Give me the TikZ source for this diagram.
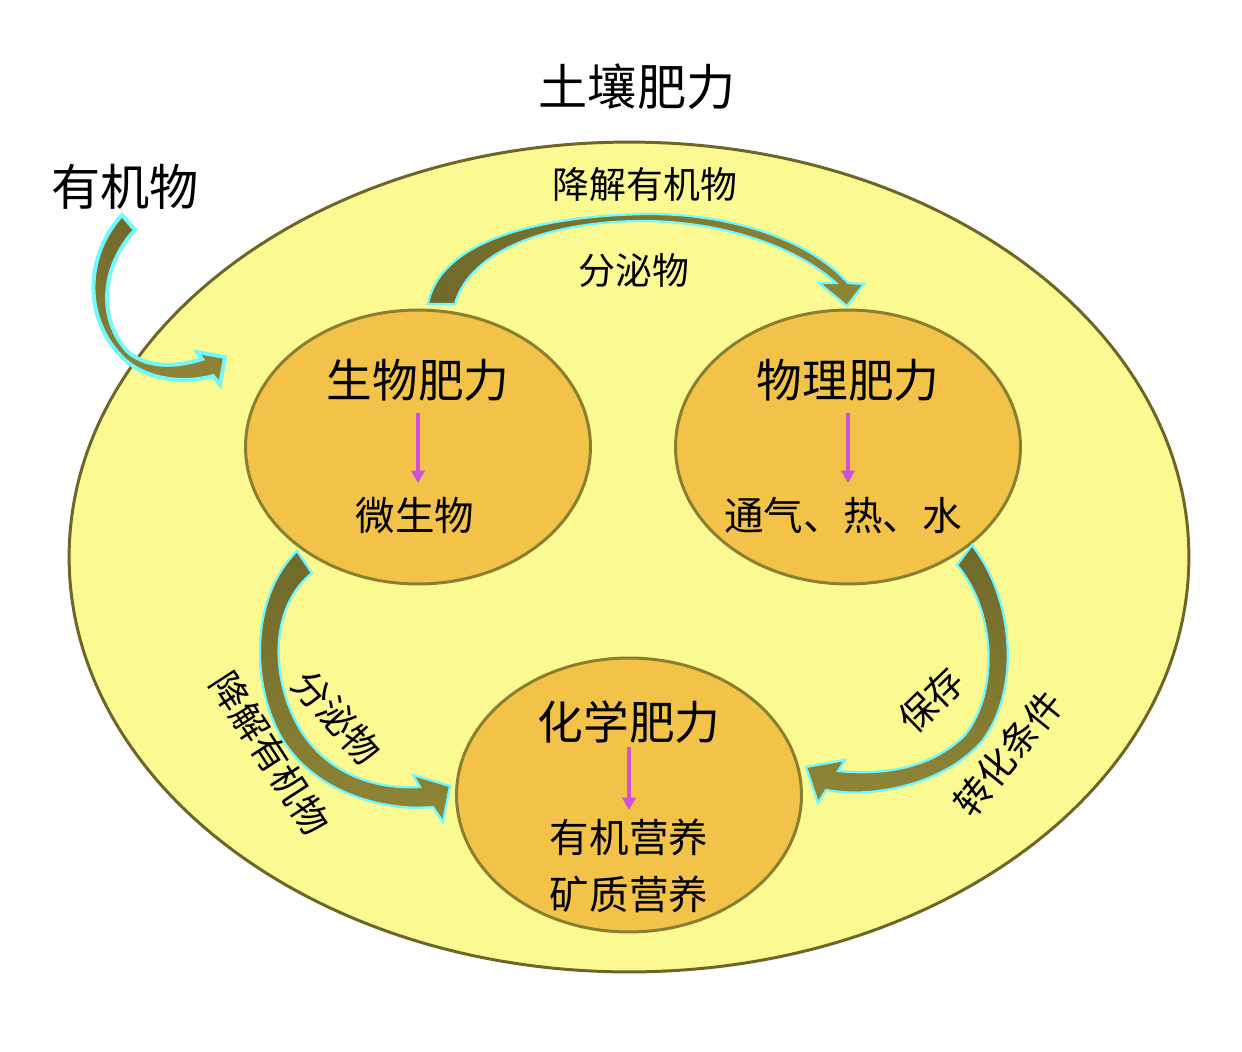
\documentclass[tikz,border=0pt]{standalone}
\usepackage{fontspec}
\setmainfont{Noto Sans CJK SC}
\usetikzlibrary{shapes.geometric,arrows.meta}
\definecolor{bigfill}{HTML}{FBFA92}
\definecolor{bigline}{HTML}{6D6628}
\definecolor{innfill}{HTML}{F3C248}
\definecolor{innline}{HTML}{8A7F30}
\definecolor{arrdark}{HTML}{6F692B}
\definecolor{arrlight}{HTML}{8E8536}
\definecolor{glow}{HTML}{70F8FC}
\definecolor{mag}{HTML}{D050DA}
\begin{document}
\begin{tikzpicture}[x=0.02cm,y=-0.02cm,
  bigell/.style={ellipse, draw=bigline, fill=bigfill, line width=1.7pt, minimum width=22.4cm, minimum height=16.6cm, inner sep=0pt},
  fertell/.style={ellipse, draw=innline, fill=innfill, line width=1.7pt, minimum width=6.9cm, minimum height=5.48cm, inner sep=0pt},
  blockarr/.style={draw=glow, line width=1.3pt, line join=miter},
  titlelbl/.style={inner sep=0pt, font=\fontsize{28}{32}\selectfont},
  headlbl/.style={inner sep=0pt, font=\fontsize{26}{30}\selectfont},
  sublbl/.style={inner sep=0pt, font=\fontsize{22.5}{32}\selectfont, align=center},
  arrlbl/.style={inner sep=0pt, font=\fontsize{21}{24}\selectfont},
  magarr/.style={draw=mag, line width=1.9pt, -{Triangle[width=7.5pt,length=7pt]}}
]
\fill[white] (0,0) rectangle (1242,1052);
\useasboundingbox (0,0) rectangle (1242,1052);

% ellipses
\node[bigell] (big) at (629,557) {};
\node[fertell] (bio) at (418,447) {};
\node[fertell] (phys) at (848,447) {};
\node[fertell] (chem) at (629,795) {};

% block arrows
\shadedraw[blockarr, line width=2.2pt, top color=arrdark, bottom color=arrlight]
  (122,215) -- (135,230) .. controls (100,268) and (98,320) .. (128,352)
  .. controls (150,370) and (180,366) .. (202,359) -- (197,352) -- (225,357) -- (220,385) -- (213,376)
  .. controls (180,385) and (145,378) .. (125,360)
  .. controls (82,320) and (85,255) .. (122,215) -- cycle;

\shadedraw[blockarr, left color=arrdark, right color=arrlight]
  (428,304) .. controls (440,240) and (540,216) .. (645,214)
  .. controls (740,213) and (815,245) .. (848,283) -- (864,284) -- (847,306) -- (819,283) -- (836,283)
  .. controls (800,250) and (730,222) .. (645,221)
  .. controls (550,221) and (470,250) .. (455,304) -- cycle;

\shadedraw[blockarr, top color=arrdark, bottom color=arrlight]
  (297,551) -- (312,573) .. controls (272,605) and (270,670) .. (295,720)
  .. controls (320,770) and (370,790) .. (420,787) -- (413,775) -- (450,786) -- (443,822) -- (433,807)
  .. controls (380,812) and (310,790) .. (280,735)
  .. controls (250,680) and (252,595) .. (297,551) -- cycle;

\shadedraw[blockarr, top color=arrdark, bottom color=arrlight]
  (972,545) -- (957,565) .. controls (995,610) and (1000,690) .. (965,735)
  .. controls (930,770) and (880,775) .. (838,771) -- (845,760) -- (806,767) -- (818,803) -- (826,790)
  .. controls (880,800) and (950,780) .. (983,740)
  .. controls (1020,690) and (1015,600) .. (972,545) -- cycle;

% titles
\node[titlelbl] (title) at (637,87) {土壤肥力};
\node[titlelbl] (org) at (125,187) {有机物};

% ellipse contents
\node[headlbl] (bioH) at (418,380) {生物肥力};
\node[sublbl] (bioS) at (415,516) {微生物};
\node[headlbl] (physH) at (848,380) {物理肥力};
\node[sublbl] (physS) at (843,516) {通气、热、水};
\node[headlbl] (chemH) at (629,722) {化学肥力};
\node[sublbl] (chemS) at (629,866) {有机营养\\矿质营养};

\draw[magarr] (418,413) -- (418,483);
\draw[magarr] (848,413) -- (848,483);
\draw[magarr] (629,747) -- (629,810);

% arrow labels
\node[arrlbl] (topA) at (645,185) {降解有机物};
\node[arrlbl] (topB) at (634,271) {分泌物};
\node[arrlbl, rotate=-57] (leftA) at (270,753) {降解有机物};
\node[arrlbl, rotate=-48] (leftB) at (337,717) {分泌物};
\node[arrlbl, rotate=44] (rightA) at (931,700) {保存};
\node[arrlbl, rotate=51] (rightB) at (1008,753) {转化条件};
\end{tikzpicture}
\end{document}
